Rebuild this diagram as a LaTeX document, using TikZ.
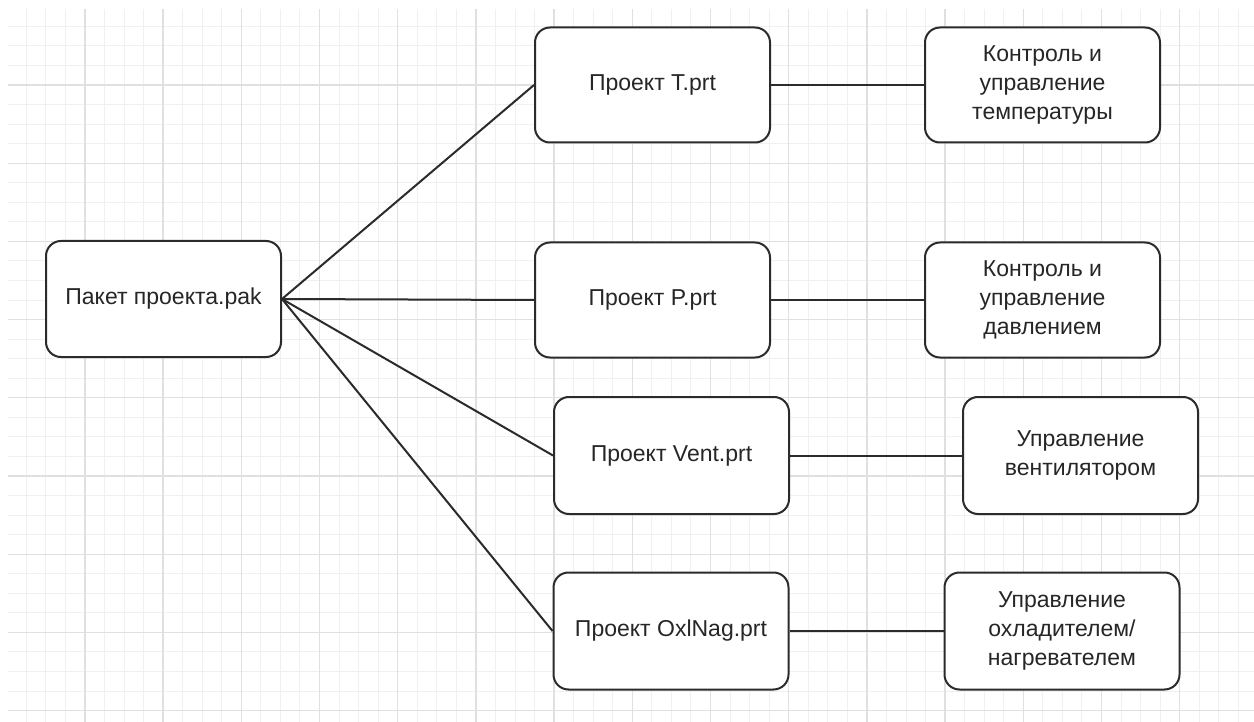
\documentclass[tikz,border=0pt]{standalone}
\usepackage{fontspec}
\setmainfont{Liberation Sans}
\definecolor{minorgrid}{HTML}{F0F0F0}
\definecolor{majorgrid}{HTML}{E0E0E0}
\definecolor{edge}{HTML}{2B2B2B}
\definecolor{txt}{HTML}{262626}
\tikzset{
  box/.style={draw=edge, line width=2pt, rounded corners=15pt, fill=white,
    minimum width=235pt, minimum height=115pt, align=center, text=txt,
    font=\fontsize{23pt}{29pt}\selectfont, inner sep=0pt},
  link/.style={draw=edge, line width=2pt}
}
\begin{document}
\begin{tikzpicture}[x=1pt,y=-1pt]
\useasboundingbox (0,0) rectangle (1254,722);
\fill[white] (0,0) rectangle (1254,722);
\begin{scope}
\clip (8,10) rectangle (1254,722);
\foreach \i in {0,...,64} {
  \draw[minorgrid, line width=1pt] ({6.7+19.55*\i},0) -- ({6.7+19.55*\i},722);
}
\foreach \i in {0,...,37} {
  \draw[minorgrid, line width=1pt] (0,{6.8+19.55*\i}) -- (1254,{6.8+19.55*\i});
}
\foreach \i in {0,...,16} {
  \draw[majorgrid, line width=1.3pt] ({6.7+78.2*\i},0) -- ({6.7+78.2*\i},722);
}
\foreach \i in {0,...,9} {
  \draw[majorgrid, line width=1.3pt] (0,{6.8+78.2*\i}) -- (1254,{6.8+78.2*\i});
}
\end{scope}

\node[box, minimum width=235pt, minimum height=116pt] (pak) at (163.5,299) {Пакет проекта.pak};
\node[box] (t) at (652.5,85) {Проект T.prt};
\node[box] (p) at (652.5,300) {Проект P.prt};
\node[box, minimum height=117pt] (vent) at (671.5,455.5) {Проект Vent.prt};
\node[box, minimum height=117pt] (ox) at (671,631) {Проект OxlNag.prt};

\node[box] (tc) at (1042.5,85) {Контроль и\\управление\\температуры};
\node[box] (pc) at (1042.5,300) {Контроль и\\управление\\давлением};
\node[box, minimum height=117pt] (vc) at (1080.5,455.5) {Управление\\вентилятором};
\node[box, minimum height=117pt] (oc) at (1062,631) {Управление\\охладителем/\\нагревателем};

\draw[link] (pak.east) -- (t.west);
\draw[link] (pak.east) -- (p.west);
\draw[link] (pak.east) -- (vent.west);
\draw[link] (pak.east) -- (ox.west);
\draw[link] (t.east) -- (tc.west);
\draw[link] (p.east) -- (pc.west);
\draw[link] (vent.east) -- (vc.west);
\draw[link] (ox.east) -- (oc.west);
\end{tikzpicture}
\end{document}
